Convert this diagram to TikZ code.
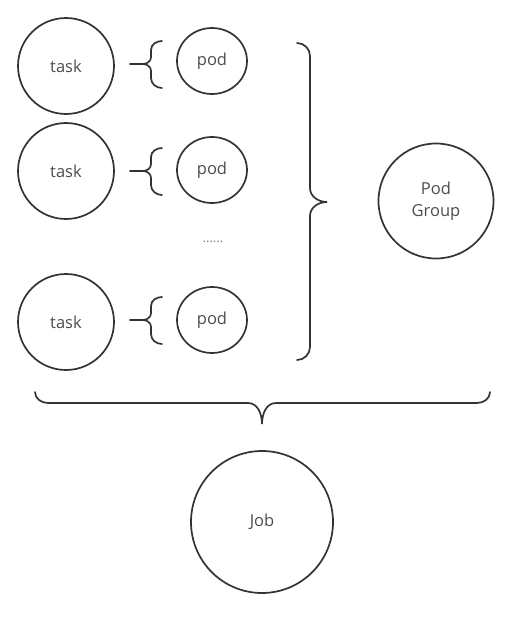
\documentclass[tikz,border=0pt]{standalone}
\usepackage{fontspec}
\setmainfont{Open Sans}
\usetikzlibrary{shapes.geometric}
\begin{document}
\begin{tikzpicture}[x=1pt,y=-1pt,
  circ/.style={draw=black!80,line width=1.7pt,circle,inner sep=0pt,text=black!70,font=\fontsize{16.5}{22}\selectfont},
  brc/.style={draw=black!80,line width=1.7pt,line cap=round}]
\useasboundingbox (0,0) rectangle (513,627);
\node[circ,minimum size=96pt] (t1) at (66,66) {task};
\node[circ,minimum size=96pt] (t2) at (66,171) {task};
\node[circ,minimum size=96pt] (t3) at (66,322) {task};
\node[circ,ellipse,minimum width=70pt,minimum height=66pt] (p1) at (212,61) {pod};
\node[circ,ellipse,minimum width=70pt,minimum height=66pt] (p2) at (212,170) {pod};
\node[circ,ellipse,minimum width=70pt,minimum height=66pt] (p3) at (212,320) {pod};
\node[circ,minimum size=115pt,align=center] (pg) at (436,201) {Pod\\Group};
\node[circ,minimum size=142pt] (job) at (262,522) {Job};
\node[text=black!50,font=\fontsize{13}{14}\selectfont] (dots) at (213,242) {......};
% small braces
\foreach \y in {64,171,320}{
  \draw[brc] (130,\y) -- (143,\y);
  \draw[brc] (162,\y-23) to[out=180,in=90] (151,\y-14) -- (151,\y-7) to[out=-90,in=0] (143,\y) to[out=0,in=90] (151,\y+7) -- (151,\y+14) to[out=-90,in=180] (162,\y+24);
}
% big right brace
\draw[brc] (297,43) to[out=0,in=90] (310,56) -- (310,188) to[out=-90,in=180] (327,202) to[out=180,in=90] (310,216) -- (310,347) to[out=-90,in=0] (297,360);
% bottom brace
\draw[brc] (35,392) to[out=-90,in=180] (48,403) -- (248,403) to[out=0,in=90] (262,424) to[out=90,in=180] (276,403) -- (477,403) to[out=0,in=-90] (490,392);
\end{tikzpicture}
\end{document}
